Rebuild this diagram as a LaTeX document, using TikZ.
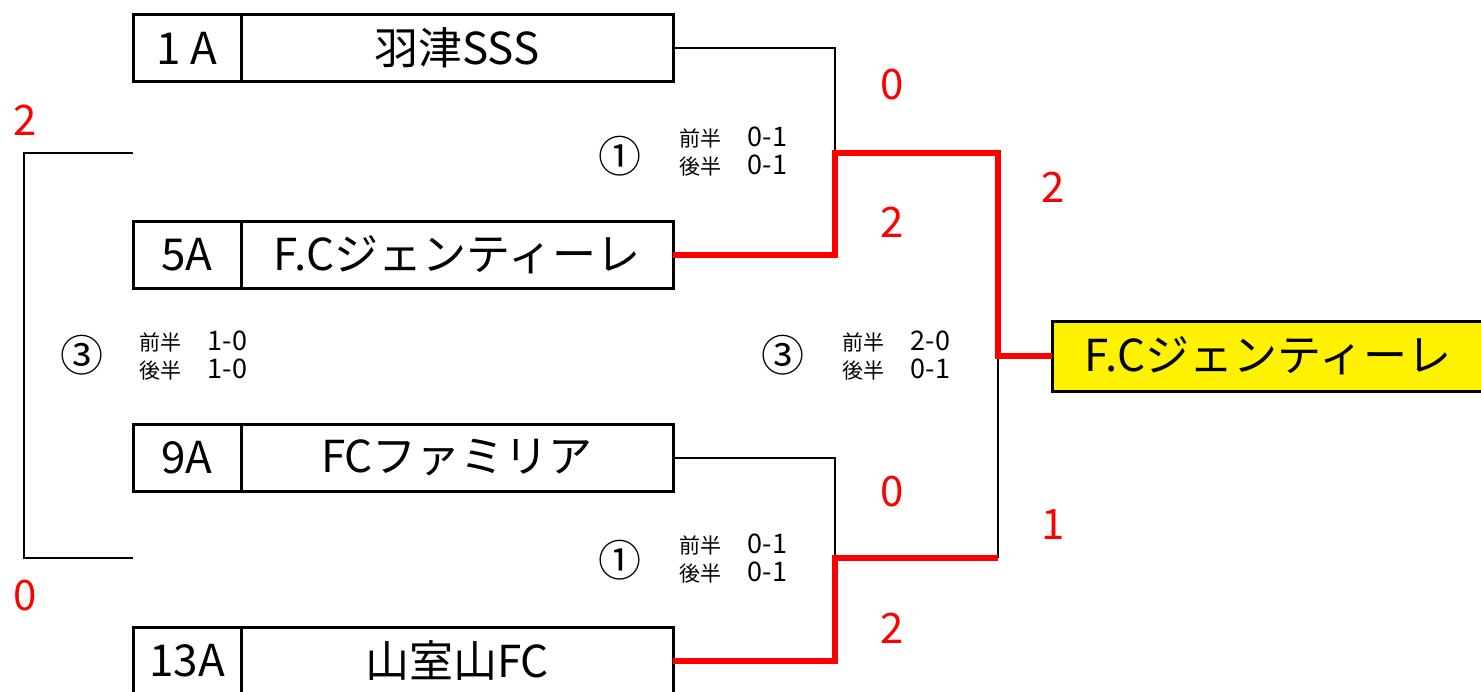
\documentclass[tikz,border=0pt]{standalone}
\usepackage{fontspec}
\newfontfamily\jpfont{Noto Sans CJK JP}
\usepackage{tikz}
\usetikzlibrary{positioning}
\newcommand{\hscore}[1]{{\fontsize{13.5}{14}\selectfont #1}}

\begin{document}
\begin{tikzpicture}[x=0.5pt,y=-0.5pt]
\tikzstyle{seedbox}=[draw, line width=1.5pt, outer sep=0pt, inner sep=0pt, minimum width=54pt, minimum height=33.5pt, font=\jpfont\fontsize{22}{26}\selectfont]
\tikzstyle{teambox}=[seedbox, minimum width=216pt]
\tikzstyle{champbox}=[teambox, fill=yellow, minimum height=35pt]
\tikzstyle{score}=[text=red, font=\jpfont\fontsize{21}{24}\selectfont]
\tikzstyle{roundno}=[font=\jpfont\fontsize{21.5}{24}\selectfont]
\tikzstyle{halves}=[anchor=west, align=left, inner sep=0pt, font=\jpfont\fontsize{10.5}{14}\selectfont]
\tikzstyle{bline}=[line width=1pt]
\tikzstyle{wline}=[line width=3pt, red]
\useasboundingbox (0,0) rectangle (1481,691);

\node[seedbox] (0) at (187,48) {1 A};
\node[teambox] (1) [right=0pt of 0] {羽津SSS};
\node[seedbox] (2) at (187,255) {5A};
\node[teambox] (3) [right=0pt of 2] {F.Cジェンティーレ};
\node[seedbox] (4) at (187,458) {9A};
\node[teambox] (5) [right=0pt of 4] {FCファミリア};
\node[seedbox] (6) at (187,661) {13A};
\node[teambox] (7) [right=0pt of 6] {山室山FC};
\node[champbox] (8) at (1268,356) {F.Cジェンティーレ};

\coordinate (a) at (835,153);
\coordinate (b) at (835,558);
\coordinate (c) at (998,356);
\coordinate (d) at (133,153);
\coordinate (e) at (133,558);
\coordinate (f) at (24,356);

\draw[bline] (1.east) -| (a);
\draw[bline] (5.east) -| (b);
\draw[bline] (b -| c) -- (c);
\draw[bline] (d) -| (f) |- (e);
\draw[wline] (3.east) -| (a) -| (c) -- (8.west);
\draw[wline] (7.east) -| (b) -- (b -| c);

\node[roundno] (9) at (620,156) {①};
\node[halves] (10) at (679,152) {前半\hspace{1.25em}\hscore{0-1}\\後半\hspace{1.25em}\hscore{0-1}};
\node[roundno] (11) at (620,560) {①};
\node[halves] (12) at (679,559) {前半\hspace{1.25em}\hscore{0-1}\\後半\hspace{1.25em}\hscore{0-1}};
\node[roundno] (13) at (82,355) {③};
\node[halves] (14) at (139,356) {前半\hspace{1.25em}\hscore{1-0}\\後半\hspace{1.25em}\hscore{1-0}};
\node[roundno] (15) at (783,355) {③};
\node[halves] (16) at (842,356) {前半\hspace{1.25em}\hscore{2-0}\\後半\hspace{1.25em}\hscore{0-1}};

\node[score] (17) at (25,120) {2};
\node[score] (18) at (25,596) {0};
\node[score] (19) at (892,85) {0};
\node[score] (20) at (892,222) {2};
\node[score] (21) at (1053,187) {2};
\node[score] (22) at (892,492) {0};
\node[score] (23) at (1053,525) {1};
\node[score] (24) at (892,628) {2};

\end{tikzpicture}
\end{document}
